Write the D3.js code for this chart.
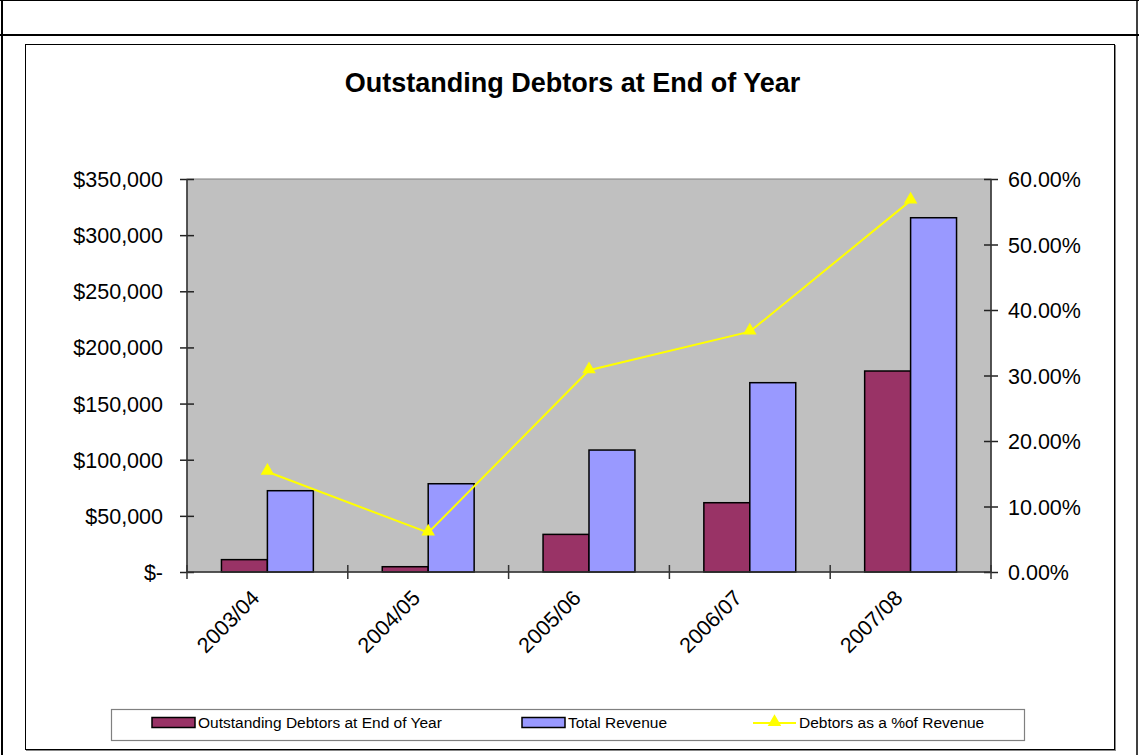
<!DOCTYPE html>
<html>
<head>
<meta charset="utf-8">
<script src="https://cdn.jsdelivr.net/npm/d3@7"></script>
<style>
  html, body { margin: 0; padding: 0; background: #fff; }
  svg { display: block; font-family: "Liberation Sans", Arial, sans-serif; }
</style>
</head>
<body>
<svg id="chart" width="1139" height="755"></svg>
<script>
// Financial years shown on the category axis
const years = ["2003/04", "2004/05", "2005/06", "2006/07", "2007/08"];
// Debtors outstanding at year end ($)
const debtors = [11000, 4700, 33500, 61700, 179000];
// Total revenue for the year ($)
const revenue = [72400, 78600, 108600, 168600, 315500];
// Debtors as a share of revenue (%)
const debtorPct = [15.3, 6.0, 30.8, 36.7, 56.7];
// Axis ticks
const dollarTicks = [0, 50000, 100000, 150000, 200000, 250000, 300000, 350000];
const pctTicks = [0, 10, 20, 30, 40, 50, 60];
const seriesNames = ["Outstanding Debtors at End of Year", "Total Revenue", "Debtors as a %of Revenue"];

const colors = { debtors: "#993366", revenue: "#9999FF", pct: "#FFFF00", plot: "#C0C0C0" };

const svg = d3.select("#chart");
const W = 1139, H = 755;

// Outer worksheet frame
svg.append("line").attr("x1", 2).attr("x2", 2).attr("y1", 0).attr("y2", H).attr("stroke", "#000").attr("stroke-width", 2);
svg.append("line").attr("x1", 1137).attr("x2", 1137).attr("y1", 0).attr("y2", H).attr("stroke", "#000").attr("stroke-width", 1.5);
svg.append("line").attr("x1", 0).attr("x2", W).attr("y1", 0.5).attr("y2", 0.5).attr("stroke", "#000").attr("stroke-width", 1);
svg.append("line").attr("x1", 0).attr("x2", W).attr("y1", 35).attr("y2", 35).attr("stroke", "#000").attr("stroke-width", 2);

// Chart area with a thin shadow
svg.append("rect").attr("x", 26.5).attr("y", 45.5).attr("width", 1089).attr("height", 705)
  .attr("fill", "none").attr("stroke", "#888").attr("stroke-width", 1);
svg.append("rect").attr("x", 25.5).attr("y", 44.5).attr("width", 1089).attr("height", 705)
  .attr("fill", "#fff").attr("stroke", "#000").attr("stroke-width", 1);

// Title
svg.append("text").attr("x", 572.5).attr("y", 92).attr("text-anchor", "middle")
  .attr("font-size", 27).attr("font-weight", "bold").attr("fill", "#000")
  .text("Outstanding Debtors at End of Year");

// Plot area
const plot = { left: 187, right: 991, top: 179, bottom: 572 };

const x = d3.scaleBand().domain(years).range([plot.left, plot.right]).paddingInner(0).paddingOuter(0);
const yL = d3.scaleLinear().domain([0, 350000]).range([plot.bottom, plot.top]);
const yR = d3.scaleLinear().domain([0, 60]).range([plot.bottom, plot.top]);

svg.append("rect").attr("x", plot.left).attr("y", plot.top)
  .attr("width", plot.right - plot.left).attr("height", plot.bottom - plot.top)
  .attr("fill", colors.plot).attr("stroke", "#808080").attr("stroke-width", 1);

// Clustered bars: two bars per category, gap width 150%
const barW = x.bandwidth() / 3.5;
const inner = d3.scaleBand().domain(["debtors", "revenue"])
  .range([0, 2 * barW]);

const groups = svg.append("g").selectAll("g").data(years).join("g")
  .attr("transform", d => `translate(${x(d) + x.bandwidth() / 2 - barW},0)`);

groups.append("rect")
  .attr("x", inner("debtors")).attr("width", inner.bandwidth())
  .attr("y", (d, i) => yL(debtors[i])).attr("height", (d, i) => yL(0) - yL(debtors[i]))
  .attr("fill", colors.debtors).attr("stroke", "#000").attr("stroke-width", 1.5);

groups.append("rect")
  .attr("x", inner("revenue")).attr("width", inner.bandwidth())
  .attr("y", (d, i) => yL(revenue[i])).attr("height", (d, i) => yL(0) - yL(revenue[i]))
  .attr("fill", colors.revenue).attr("stroke", "#000").attr("stroke-width", 1.5);

// Axes
const axisFont = 21.5;
const leftAxis = d3.axisLeft(yL).tickValues(dollarTicks).tickSize(0).tickPadding(24)
  .tickFormat(d => d === 0 ? "$-" : "$" + d3.format(",")(d));
const gL = svg.append("g").attr("transform", `translate(${plot.left},0)`).call(leftAxis);
gL.select(".domain").remove();
gL.selectAll(".tick text").attr("font-size", axisFont).attr("fill", "#000").attr("font-family", "Liberation Sans, Arial, sans-serif").attr("dy", "0.35em");
gL.selectAll(".tick").append("line").attr("x1", -7).attr("x2", 7).attr("stroke", "#222").attr("stroke-width", 1.5);

const rightAxis = d3.axisRight(yR).tickValues(pctTicks).tickSize(0).tickPadding(17)
  .tickFormat(d => d3.format(".2f")(d) + "%");
const gR = svg.append("g").attr("transform", `translate(${plot.right},0)`).call(rightAxis);
gR.select(".domain").remove();
gR.selectAll(".tick text").attr("font-size", axisFont).attr("fill", "#000").attr("font-family", "Liberation Sans, Arial, sans-serif").attr("dy", "0.35em");
gR.selectAll(".tick").append("line").attr("x1", -7).attr("x2", 7).attr("stroke", "#222").attr("stroke-width", 1.5);

// Axis lines
svg.append("line").attr("x1", plot.left).attr("x2", plot.left).attr("y1", plot.top).attr("y2", plot.bottom + 1)
  .attr("stroke", "#333").attr("stroke-width", 1.5);
svg.append("line").attr("x1", plot.right).attr("x2", plot.right).attr("y1", plot.top).attr("y2", plot.bottom + 1)
  .attr("stroke", "#333").attr("stroke-width", 1.5);
svg.append("line").attr("x1", plot.left).attr("x2", plot.right).attr("y1", plot.bottom).attr("y2", plot.bottom)
  .attr("stroke", "#333").attr("stroke-width", 1.5);

// Category boundary ticks
const bounds = years.map(d => x(d)).concat([plot.right]);
svg.append("g").selectAll("line").data(bounds).join("line")
  .attr("x1", d => d).attr("x2", d => d).attr("y1", plot.bottom - 7).attr("y2", plot.bottom + 7)
  .attr("stroke", "#333").attr("stroke-width", 1.5);

// Rotated category labels
svg.append("g").selectAll("text").data(years).join("text")
  .attr("transform", d => `translate(${x(d) + x.bandwidth() / 2 - 12},${plot.bottom + 22}) rotate(-45)`)
  .attr("text-anchor", "end").attr("dy", "0.35em")
  .attr("font-size", axisFont).attr("fill", "#000")
  .text(d => d);

// Debtors % line with triangle markers
const line = d3.line().x((d, i) => x(years[i]) + x.bandwidth() / 2).y(d => yR(d));
svg.append("path").datum(debtorPct).attr("d", line)
  .attr("fill", "none").attr("stroke", colors.pct).attr("stroke-width", 2);
const tri = d3.symbol().type(d3.symbolTriangle).size(80);
svg.append("g").selectAll("path").data(debtorPct).join("path")
  .attr("d", tri)
  .attr("transform", (d, i) => `translate(${x(years[i]) + x.bandwidth() / 2},${yR(d) - 1})`)
  .attr("fill", colors.pct);

// Legend
const legend = svg.append("g");
legend.append("rect").attr("x", 111.5).attr("y", 709.5).attr("width", 913).attr("height", 31)
  .attr("fill", "#fff").attr("stroke", "#808080").attr("stroke-width", 1.2);
const legY = 723;
const legItems = [
  { x: 152, type: "bar", color: colors.debtors, label: seriesNames[0] },
  { x: 522, type: "bar", color: colors.revenue, label: seriesNames[1] },
  { x: 753, type: "line", color: colors.pct, label: seriesNames[2] }
];
legItems.forEach(it => {
  if (it.type === "bar") {
    legend.append("rect").attr("x", it.x).attr("y", legY - 5.5).attr("width", 43).attr("height", 10)
      .attr("fill", it.color).attr("stroke", "#000").attr("stroke-width", 1.5);
  } else {
    legend.append("line").attr("x1", it.x).attr("x2", it.x + 43).attr("y1", legY).attr("y2", legY)
      .attr("stroke", it.color).attr("stroke-width", 2);
    legend.append("path").attr("d", tri).attr("transform", `translate(${it.x + 21.5},${legY - 1})`).attr("fill", it.color);
  }
  legend.append("text").attr("x", it.x + 46).attr("y", legY).attr("dy", "0.35em")
    .attr("font-size", 15.5).attr("fill", "#000").text(it.label);
});
</script>
</body>
</html>
